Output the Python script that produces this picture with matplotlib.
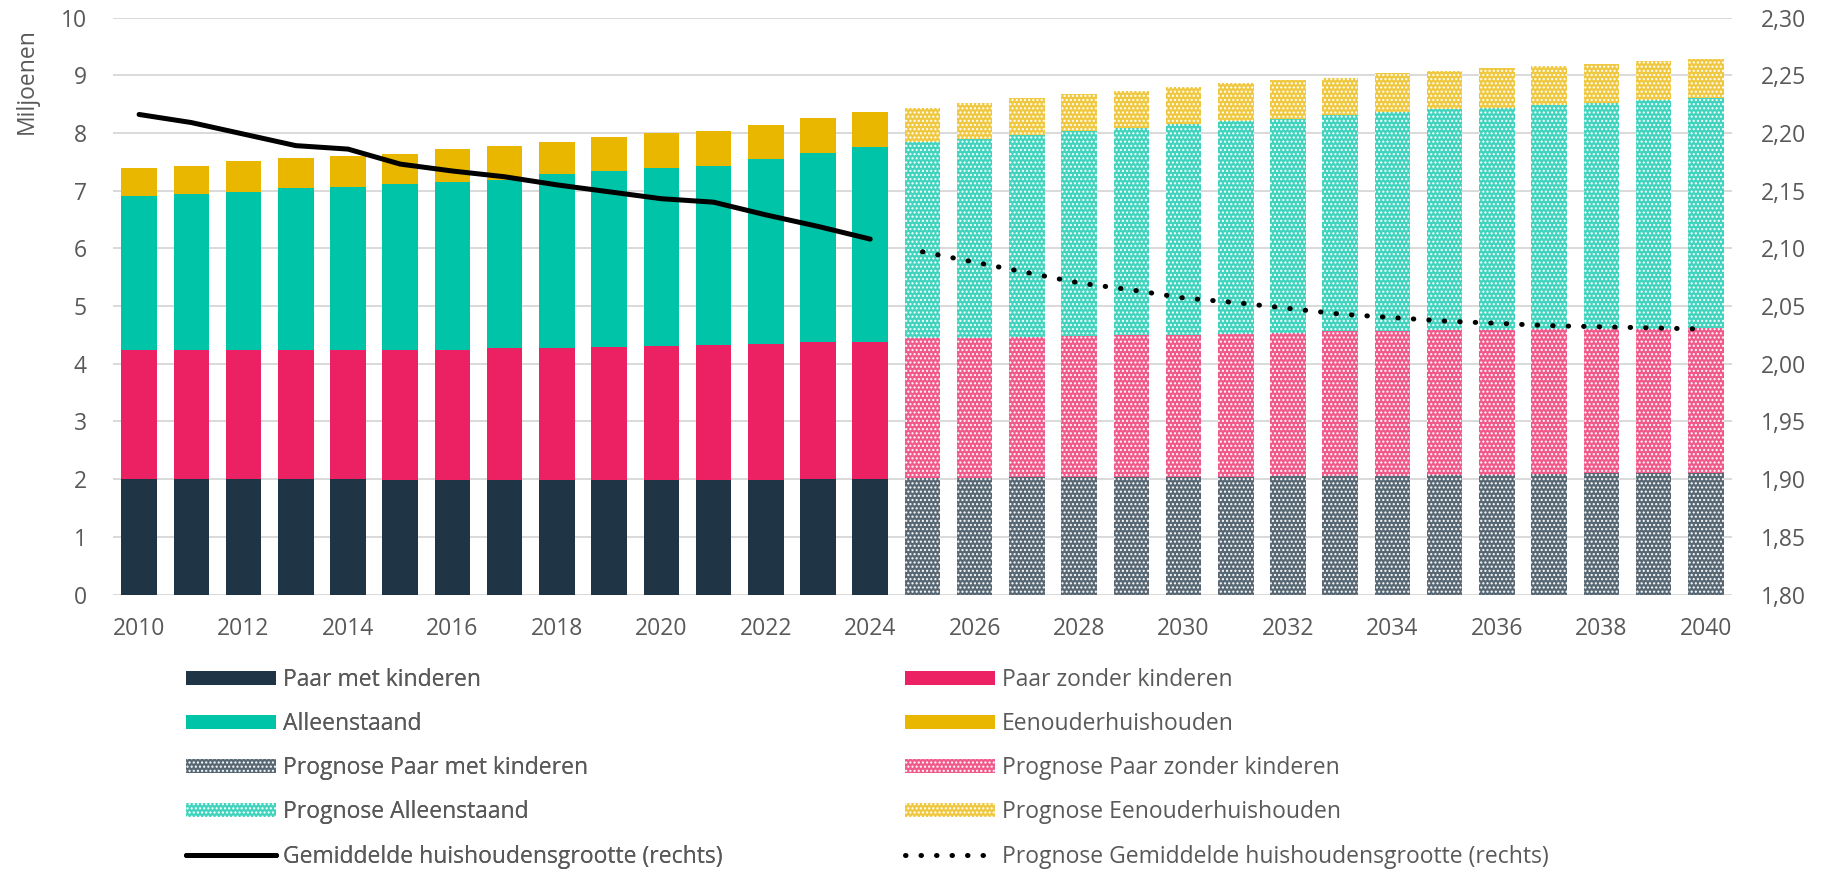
import numpy as np
import matplotlib
matplotlib.use("Agg")
import matplotlib.pyplot as plt
from matplotlib.colors import to_rgb

plt.rcParams['font.family'] = ['Open Sans', 'DejaVu Sans']
plt.rcParams['hatch.linewidth'] = 1.0

years = list(range(2010, 2041))
n_hist = 15  # 2010-2024 realised, 2025-2040 prognosis

# miljoenen huishoudens per type
paar_met = [2.01, 2.01, 2.01, 2.01, 2.01, 1.99, 1.99, 1.99, 1.99, 1.99, 1.99, 1.99, 1.99, 2.01, 2.00,
            2.02, 2.02, 2.03, 2.03, 2.03, 2.04, 2.04, 2.05, 2.05, 2.06, 2.08, 2.08, 2.09, 2.10, 2.10, 2.10]
paar_zonder = [2.22, 2.22, 2.22, 2.23, 2.23, 2.25, 2.25, 2.28, 2.28, 2.30, 2.32, 2.34, 2.35, 2.36, 2.38,
               2.42, 2.43, 2.44, 2.45, 2.47, 2.46, 2.48, 2.49, 2.51, 2.51, 2.51, 2.51, 2.51, 2.51, 2.51, 2.52]
alleenstaand = [2.68, 2.71, 2.75, 2.80, 2.83, 2.88, 2.91, 2.92, 3.01, 3.05, 3.09, 3.10, 3.21, 3.28, 3.37,
                3.40, 3.44, 3.50, 3.56, 3.58, 3.66, 3.69, 3.71, 3.75, 3.80, 3.82, 3.85, 3.88, 3.91, 3.96, 3.98]
eenouder = [0.48, 0.49, 0.54, 0.52, 0.53, 0.52, 0.58, 0.59, 0.57, 0.59, 0.60, 0.61, 0.59, 0.61, 0.61,
            0.60, 0.63, 0.64, 0.64, 0.64, 0.64, 0.66, 0.66, 0.65, 0.66, 0.66, 0.68, 0.68, 0.68, 0.67, 0.68]

# gemiddelde huishoudensgrootte (rechter as)
grootte = [2.216, 2.209, 2.199, 2.189, 2.186, 2.173, 2.167, 2.162, 2.155, 2.149, 2.143, 2.140, 2.129, 2.119, 2.108]
grootte_prognose = [2.097, 2.088, 2.079, 2.070, 2.064, 2.057, 2.053, 2.048, 2.043, 2.040, 2.037, 2.035,
                    2.033, 2.032, 2.031, 2.030]

series = [
    ("Paar met kinderen", paar_met, "#1F3546"),
    ("Paar zonder kinderen", paar_zonder, "#EB2163"),
    ("Alleenstaand", alleenstaand, "#00C4A7"),
    ("Eenouderhuishouden", eenouder, "#E9B600"),
]

txt = "#595959"
grid = "#D9D9D9"
fs = 16.5


def lighten(c, f):
    r, g, b = to_rgb(c)
    return (r + (1 - r) * f, g + (1 - g) * f, b + (1 - b) * f)


fig = plt.figure(figsize=(18.25, 8.72), dpi=100)
ax = fig.add_axes([0.0619, 0.3182, 0.8871, 0.6617])

x = np.arange(len(years))
bottom = np.zeros(len(years))
handles = {}
for name, vals, col in series:
    vals = np.array(vals)
    h1 = ax.bar(x[:n_hist], vals[:n_hist], bottom=bottom[:n_hist], width=0.68,
                color=col, linewidth=0)
    h2 = ax.bar(x[n_hist:], vals[n_hist:], bottom=bottom[n_hist:], width=0.68,
                facecolor=lighten(col, 0.25), edgecolor="white", hatch="....", linewidth=0)
    handles[name] = h1
    handles["Prognose " + name] = h2
    bottom += vals

ax.set_xlim(-0.5, len(years) - 0.5)
ax.set_ylim(0, 10)
ax.set_yticks(range(0, 11))
ax.set_xticks(x[::2], [str(y) for y in years[::2]])
ax.set_axisbelow(True)
ax.yaxis.grid(True, color=grid, linewidth=1.4)
for s in ax.spines.values():
    s.set_visible(False)
ax.tick_params(axis="both", length=0, labelsize=fs, labelcolor=txt)
ax.tick_params(axis="x", pad=16)
ax.tick_params(axis="y", pad=19)

ax2 = ax.twinx()
l1, = ax2.plot(x[:n_hist], grootte, color="black", linewidth=3.6, solid_capstyle="round")
l2, = ax2.plot(x[n_hist:], grootte_prognose, color="black", linewidth=3.6,
               linestyle=(0, (0.1, 3)), dash_capstyle="round")
ax2.set_ylim(1.80, 2.30)
rt = np.arange(1.80, 2.3001, 0.05)
ax2.set_yticks(rt, [f"{v:.2f}".replace(".", ",") for v in rt])
for s in ax2.spines.values():
    s.set_visible(False)
ax2.tick_params(axis="y", length=0, labelsize=fs, labelcolor=txt, pad=21)

fig.text(26.7 / 1825, 1 - 81.5 / 872, "Miljoenen", rotation=90, ha="center", va="center",
         fontsize=fs, color=txt)

left_labels = ["Paar met kinderen", "Alleenstaand", "Prognose Paar met kinderen",
               "Prognose Alleenstaand"]
right_labels = ["Paar zonder kinderen", "Eenouderhuishouden", "Prognose Paar zonder kinderen",
                "Prognose Eenouderhuishouden"]

leg_kw = dict(loc="upper left", frameon=False, borderpad=0, borderaxespad=0,
              handlelength=3.93, handleheight=0.57, handletextpad=0.3, labelspacing=0.88,
              fontsize=fs, labelcolor=txt)
leg1 = fig.legend([handles[k] for k in left_labels] + [l1],
                  left_labels + ["Gemiddelde huishoudensgrootte (rechts)"],
                  bbox_to_anchor=(186 / 1825, 1 - 668 / 872), **leg_kw)
fig.legend([handles[k] for k in right_labels] + [l2],
           right_labels + ["Prognose Gemiddelde huishoudensgrootte (rechts)"],
           bbox_to_anchor=(905 / 1825, 1 - 668 / 872), **leg_kw)
fig.add_artist(leg1)

fig.savefig("out.png", dpi=100)
